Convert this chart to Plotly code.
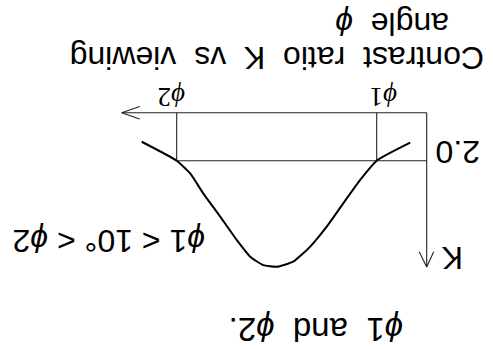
import plotly.graph_objects as go

# Contrast ratio K vs viewing angle (figure is printed rotated by 180 degrees)
curve_angle = [3.3, 10, 13.3, 16.7, 20, 23.3, 26.7, 30, 32.7, 35.3, 38, 41.3, 44.7, 47.3, 50, 57]
curve_k = [1.25, 2.0, 2.8, 3.78, 4.75, 5.58, 6.21, 6.42, 6.35, 6.0, 5.3, 4.33, 3.36, 2.53, 2.0, 1.21]

phi1 = 10
phi2 = 50
k_level = 2.0
angle_axis_end = 61
k_axis_end = 6.43

fig = go.Figure()

axis_line = dict(color='#222222', width=1.1)

# angle axis with open arrowhead
fig.add_trace(go.Scatter(x=[0, angle_axis_end], y=[0, 0], mode='lines', line=axis_line))
fig.add_trace(go.Scatter(x=[angle_axis_end - 3.6, angle_axis_end, angle_axis_end - 3.6],
                         y=[-0.26, 0, 0.26], mode='lines', line=axis_line))
# K axis with open arrowhead
fig.add_trace(go.Scatter(x=[0, 0], y=[0, k_axis_end], mode='lines', line=axis_line))
fig.add_trace(go.Scatter(x=[1.5, 0, -1.4], y=[k_axis_end - 0.64, k_axis_end, k_axis_end - 0.64],
                         mode='lines', line=axis_line))
# K = 2.0 level and the phi1 / phi2 markers
fig.add_trace(go.Scatter(x=[0, phi2], y=[k_level, k_level], mode='lines', line=axis_line))
fig.add_trace(go.Scatter(x=[phi1, phi1], y=[0, k_level], mode='lines', line=axis_line))
fig.add_trace(go.Scatter(x=[phi2, phi2], y=[0, k_level], mode='lines', line=axis_line))

# contrast curve
fig.add_trace(go.Scatter(x=curve_angle, y=curve_k, mode='lines',
                         line=dict(color='black', width=2, shape='spline', smoothing=0.5)))

W, H = 493, 349

def label(text, px, py, size, family='Liberation Sans, DejaVu Sans'):
    fig.add_annotation(text=text, x=px / W, y=1 - py / H,
                       xref='paper', yref='paper',
                       showarrow=False, textangle=180, xanchor='center', yanchor='middle',
                       font=dict(family=family, size=size, color='black'))

sp = '\u00a0'
phi = '<i>ϕ</i>'
label(f'Contrast{sp}{sp}ratio{sp}{sp}K{sp}{sp}vs{sp}{sp}viewing', 277, 58, 32)
label(f'angle{sp}{sp}{phi}', 392, 24, 32)
label(f'{phi}2', 172, 97, 27, 'Liberation Serif, DejaVu Serif')
label(f'{phi}1', 384, 97, 27, 'Liberation Serif, DejaVu Serif')
label('2.0', 458, 152, 32)
label('K', 453, 258, 32)
label(f'{phi}1 < 10° < {phi}2', 109, 241, 32)
label(f'{phi}1{sp}{sp}and{sp}{sp}{phi}2.', 316, 330, 33)

fig.update_layout(
    width=W, height=H,
    margin=dict(l=0, r=0, t=0, b=0),
    showlegend=False,
    hovermode=False,
    plot_bgcolor='white', paper_bgcolor='white',
    xaxis=dict(range=[85.34, -13.26], visible=False, fixedrange=True),
    yaxis=dict(range=[9.846, -4.696], visible=False, fixedrange=True),
)

# drop the default page margin so the figure sits at the window corner
fig.write_html("out.html", config={'displayModeBar': False},
               post_script="document.body.style.margin = '0';")
